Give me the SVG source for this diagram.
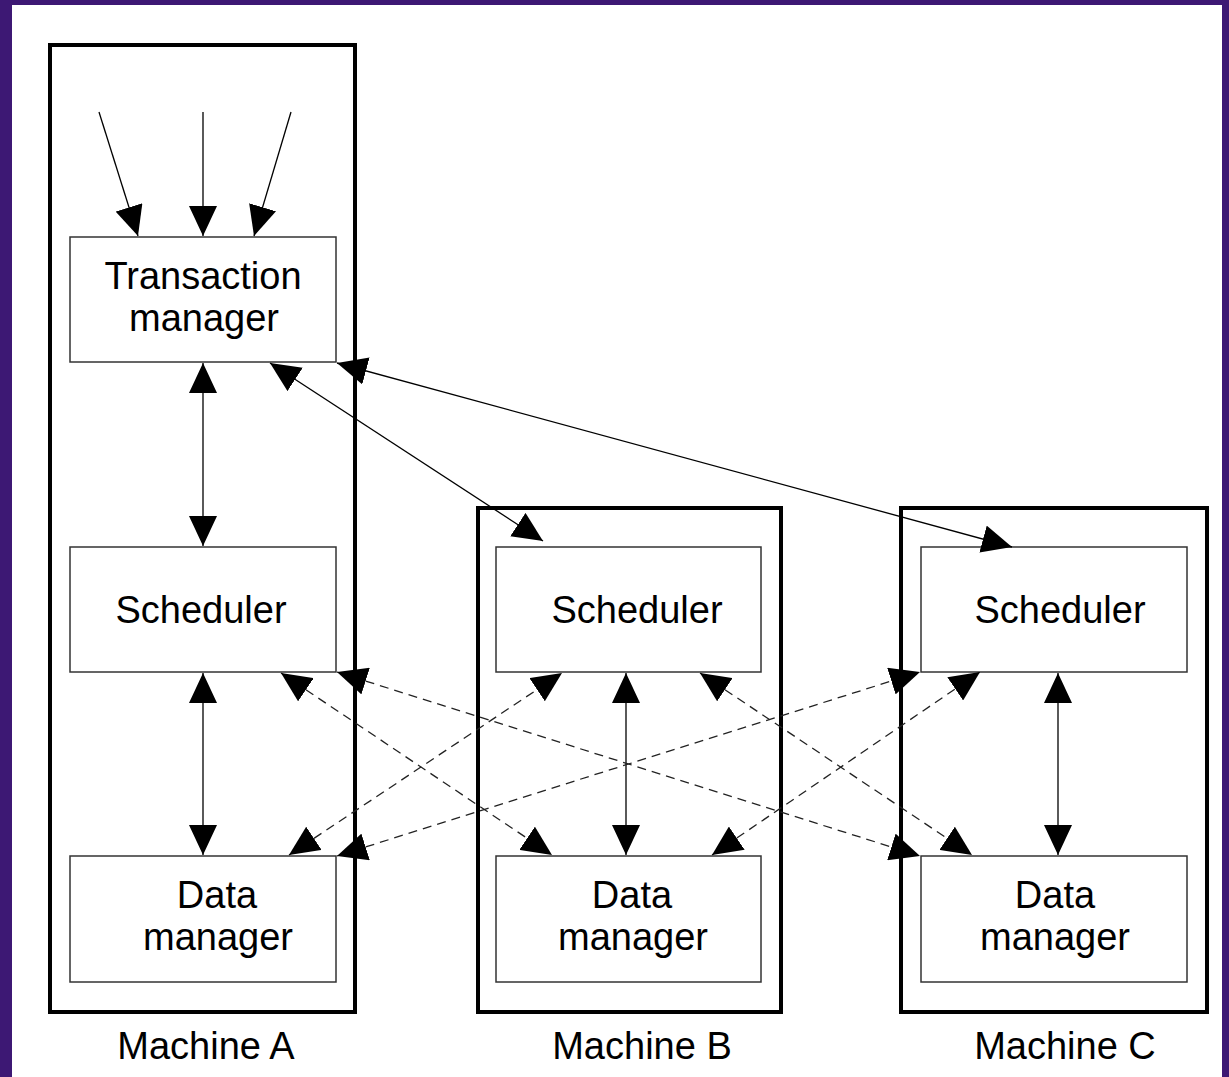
<svg xmlns="http://www.w3.org/2000/svg" width="1229" height="1077" viewBox="0 0 1229 1077">
<style>
.machine{fill:none;stroke:#000;stroke-width:4}
.box{fill:#fff;stroke:#333;stroke-width:1.5}
.lbl{font-family:"Liberation Sans",Arial,sans-serif;font-size:38px;fill:#000;text-anchor:middle}
.conn{fill:none;stroke:#000;stroke-width:1.3}
.dash{stroke:#222;stroke-dasharray:9 6}
</style>
<defs>
<marker id="ah" viewBox="0 0 30 28" refX="30" refY="14" markerWidth="30" markerHeight="28" markerUnits="userSpaceOnUse" orient="auto-start-reverse">
<path d="M0,0 L30,14 L0,28 z" fill="#000" stroke="none"/>
</marker>
</defs>
<rect x="0" y="0" width="1229" height="1077" fill="#3d1874"/>
<rect x="12" y="5" width="1210" height="1072" fill="#fff"/>

<g id="machineA">
<rect class="machine" x="50" y="45" width="305" height="967"/>
<text class="lbl" x="206" y="1059">Machine A</text>
</g>
<g id="machineB">
<rect class="machine" x="478" y="508" width="303" height="504"/>
<text class="lbl" x="642" y="1059">Machine B</text>
</g>
<g id="machineC">
<rect class="machine" x="901" y="508" width="306" height="504"/>
<text class="lbl" x="1065" y="1059">Machine C</text>
</g>

<g id="tmA">
<rect class="box" x="70" y="237" width="266" height="125"/>
<text class="lbl" x="203" y="289">Transaction</text>
<text class="lbl" x="204" y="331">manager</text>
</g>
<g id="schedA">
<rect class="box" x="70" y="547" width="266" height="125"/>
<text class="lbl" x="201" y="623">Scheduler</text>
</g>
<g id="dataA">
<rect class="box" x="70" y="856" width="266" height="126"/>
<text class="lbl" x="217" y="908">Data</text>
<text class="lbl" x="218" y="950">manager</text>
</g>
<g id="schedB">
<rect class="box" x="496" y="547" width="265" height="125"/>
<text class="lbl" x="637" y="623">Scheduler</text>
</g>
<g id="dataB">
<rect class="box" x="496" y="856" width="265" height="126"/>
<text class="lbl" x="632" y="908">Data</text>
<text class="lbl" x="633" y="950">manager</text>
</g>
<g id="schedC">
<rect class="box" x="921" y="547" width="266" height="125"/>
<text class="lbl" x="1060" y="623">Scheduler</text>
</g>
<g id="dataC">
<rect class="box" x="921" y="856" width="266" height="126"/>
<text class="lbl" x="1055" y="908">Data</text>
<text class="lbl" x="1055" y="950">manager</text>
</g>

<g id="connectors">
<line class="conn" x1="99" y1="112" x2="138" y2="236" marker-end="url(#ah)"/>
<line class="conn" x1="203" y1="112" x2="203" y2="236" marker-end="url(#ah)"/>
<line class="conn" x1="291" y1="112" x2="254" y2="236" marker-end="url(#ah)"/>

<line class="conn" x1="203" y1="363" x2="203" y2="546" marker-start="url(#ah)" marker-end="url(#ah)"/>
<line class="conn" x1="203" y1="673" x2="203" y2="855" marker-start="url(#ah)" marker-end="url(#ah)"/>
<line class="conn" x1="626" y1="673" x2="626" y2="855" marker-start="url(#ah)" marker-end="url(#ah)"/>
<line class="conn" x1="1058" y1="673" x2="1058" y2="855" marker-start="url(#ah)" marker-end="url(#ah)"/>

<line class="conn" x1="270" y1="363" x2="543" y2="541" marker-start="url(#ah)" marker-end="url(#ah)"/>
<line class="conn" x1="337" y1="363" x2="1012" y2="547" marker-start="url(#ah)" marker-end="url(#ah)"/>

<line class="conn dash" x1="281" y1="673" x2="552" y2="855" marker-start="url(#ah)" marker-end="url(#ah)"/>
<line class="conn dash" x1="337" y1="672" x2="920" y2="856" marker-start="url(#ah)" marker-end="url(#ah)"/>
<line class="conn dash" x1="289" y1="855" x2="562" y2="673" marker-start="url(#ah)" marker-end="url(#ah)"/>
<line class="conn dash" x1="337" y1="856" x2="920" y2="672" marker-start="url(#ah)" marker-end="url(#ah)"/>
<line class="conn dash" x1="700" y1="673" x2="972" y2="855" marker-start="url(#ah)" marker-end="url(#ah)"/>
<line class="conn dash" x1="712" y1="855" x2="980" y2="672" marker-start="url(#ah)" marker-end="url(#ah)"/>
</g>
</svg>
